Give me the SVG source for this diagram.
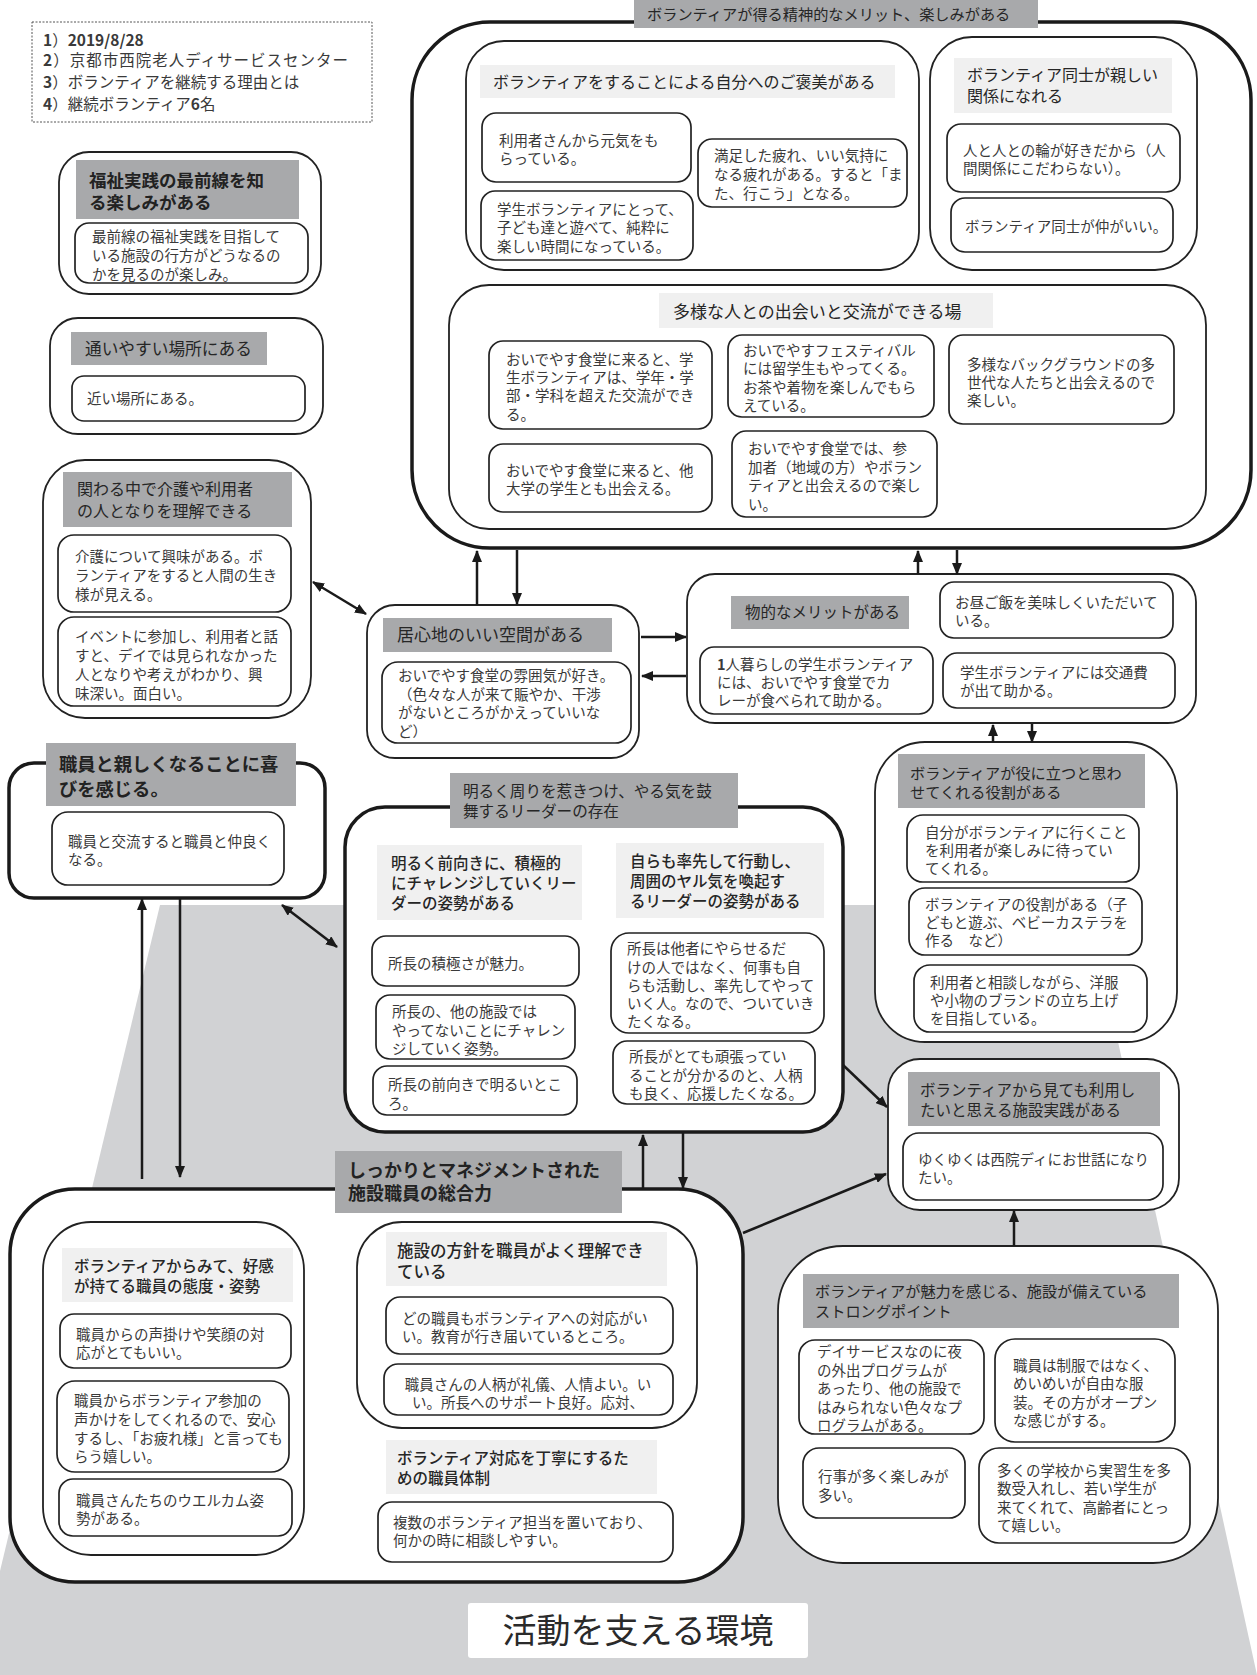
<svg xmlns="http://www.w3.org/2000/svg" width="1257" height="1675" viewBox="0 0 1257 1675">
<defs>
<style>
.bg{fill:#d1d2d4}
.thick{fill:#fff;stroke:#1a1a1a;stroke-width:3.5}
.box{fill:#fff;stroke:#222;stroke-width:1.8}
.in{fill:#fff;stroke:#222;stroke-width:1.7}
.dl{fill:#a8a9ab}
.ll{fill:#f0f0f0}
text{font-family:"Noto Sans CJK JP","Noto Sans CJK SC",sans-serif}
.t{font-size:14.5px;fill:#3a3a3a}
.h{font-size:16px;fill:#262626}
.b{font-weight:bold;fill:#222}
.conn line{stroke:#1a1a1a;stroke-width:2.5;marker-end:url(#ah)}
.conn line.dbl{marker-start:url(#ah)}
</style>
<marker id="ah" viewBox="0 0 12 10" refX="11" refY="5" markerWidth="12" markerHeight="10" markerUnits="userSpaceOnUse" orient="auto-start-reverse">
<path d="M0,0 L12,5 L0,10 z" fill="#1a1a1a"/>
</marker>
</defs>

<polygon class="bg" points="160,905 1088,905 1257,1675 0,1675 0,1571"/>

<g id="info">
<rect x="32" y="22" width="340" height="100" fill="#fff" stroke="#555" stroke-width="1" stroke-dasharray="2,1.5"/>
<text class="t" style="font-size:15.5px" x="43" y="46"><tspan font-weight="bold">1</tspan>）<tspan font-weight="bold">2019/8/28</tspan></text>
<text class="t" style="font-size:15.5px;letter-spacing:1px" x="43" y="66"><tspan font-weight="bold">2</tspan>）京都市西院老人ディサービスセンター</text>
<text class="t" style="font-size:15.5px" x="43" y="88"><tspan font-weight="bold">3</tspan>）ボランティアを継続する理由とは</text>
<text class="t" style="font-size:15.5px" x="43" y="110"><tspan font-weight="bold">4</tspan>）継続ボランティア<tspan font-weight="bold">6</tspan>名</text>
</g>

<g id="spirit">
<rect class="thick" x="412" y="22" width="839" height="526" rx="78"/>
<rect class="dl" x="634" y="0" width="404" height="28"/>
<text class="h" style="font-size:15.2px" x="647" y="20">ボランティアが得る精神的なメリット、楽しみがある</text>
</g>

<g id="reward">
<rect class="box" x="466" y="41" width="453" height="229" rx="38"/>
<rect class="ll" x="480" y="65" width="415" height="33"/>
<text class="h" x="493" y="88">ボランティアをすることによる自分へのご褒美がある</text>
<rect class="in" x="482" y="113" width="209" height="69" rx="14"/>
<text class="t" x="499" y="145.5">利用者さんから元気をも</text>
<text class="t" x="499" y="163.5">らっている。</text>
<rect class="in" x="481" y="191" width="212" height="69" rx="14"/>
<text class="t" x="497" y="215">学生ボランティアにとって、</text>
<text class="t" x="497" y="233">子ども達と遊べて、純粋に</text>
<text class="t" x="497" y="252">楽しい時間になっている。</text>
<rect class="in" x="698" y="139" width="209" height="68" rx="14"/>
<text class="t" x="714" y="161">満足した疲れ、いい気持に</text>
<text class="t" x="714" y="180">なる疲れがある。すると「ま</text>
<text class="t" x="714" y="199">た、行こう」となる。</text>
</g>

<g id="peers">
<rect class="box" x="930" y="37" width="267" height="233" rx="42"/>
<rect class="ll" x="954" y="58" width="218" height="55"/>
<text class="h" x="967" y="81">ボランティア同士が親しい</text>
<text class="h" x="967" y="102">関係になれる</text>
<rect class="in" x="947" y="124" width="233" height="68" rx="14"/>
<text class="t" x="963" y="155.5">人と人との輪が好きだから（人</text>
<text class="t" x="963" y="173.5">間関係にこだわらない）。</text>
<rect class="in" x="951" y="198" width="222" height="54" rx="14"/>
<text class="t" x="965" y="231.5">ボランティア同士が仲がいい。</text>
</g>

<g id="diverse">
<rect class="box" x="449" y="285" width="757" height="244" rx="40"/>
<rect class="ll" x="659" y="293" width="334" height="35"/>
<text class="h" style="font-size:17px" x="673" y="318">多様な人との出会いと交流ができる場</text>
<rect class="in" x="489" y="341" width="223" height="88" rx="14"/>
<text class="t" x="506" y="364.5">おいでやす食堂に来ると、学</text>
<text class="t" x="506" y="383">生ボランティアは、学年・学</text>
<text class="t" x="506" y="401">部・学科を超えた交流ができ</text>
<text class="t" x="506" y="419.5">る。</text>
<rect class="in" x="489" y="444" width="223" height="68" rx="14"/>
<text class="t" x="506" y="476">おいでやす食堂に来ると、他</text>
<text class="t" x="506" y="494">大学の学生とも出会える。</text>
<rect class="in" x="728" y="335" width="206" height="82" rx="14"/>
<text class="t" x="743" y="355.5">おいでやすフェスティバル</text>
<text class="t" x="743" y="374">には留学生もやってくる。</text>
<text class="t" x="743" y="392.5">お茶や着物を楽しんでもら</text>
<text class="t" x="743" y="411">えている。</text>
<rect class="in" x="732" y="431" width="205" height="86" rx="14"/>
<text class="t" x="748" y="454">おいでやす食堂では、参</text>
<text class="t" x="748" y="472.5">加者（地域の方）やボラン</text>
<text class="t" x="748" y="491">ティアと出会えるので楽し</text>
<text class="t" x="748" y="509.5">い。</text>
<rect class="in" x="949" y="335" width="225" height="89" rx="14"/>
<text class="t" x="967" y="369.5">多様なバックグラウンドの多</text>
<text class="t" x="967" y="387.5">世代な人たちと出会えるので</text>
<text class="t" x="967" y="405.5">楽しい。</text>
</g>

<g id="frontline">
<rect class="box" x="59" y="152" width="262" height="142" rx="30"/>
<rect class="dl" x="76" y="160" width="223" height="59"/>
<text class="h b" style="font-size:17.5px" x="89" y="187">福祉実践の最前線を知</text>
<text class="h b" style="font-size:17.5px" x="89" y="209">る楽しみがある</text>
<rect class="in" x="75" y="223" width="233" height="60" rx="14"/>
<text class="t" x="92" y="242">最前線の福祉実践を目指して</text>
<text class="t" x="92" y="261">いる施設の行方がどうなるの</text>
<text class="t" x="92" y="279.5">かを見るのが楽しみ。</text>
</g>

<g id="access">
<rect class="box" x="50" y="318" width="273" height="116" rx="28"/>
<rect class="dl" x="71" y="332" width="196" height="33"/>
<text class="h" style="font-size:16.7px" x="85" y="355">通いやすい場所にある</text>
<rect class="in" x="72" y="376" width="233" height="45" rx="12"/>
<text class="t" x="87" y="403.5">近い場所にある。</text>
</g>

<g id="understand">
<rect class="box" x="43" y="460" width="268" height="258" rx="42"/>
<rect class="dl" x="63" y="472" width="229" height="55"/>
<text class="h" style="font-size:16px" x="77" y="494.5">関わる中で介護や利用者</text>
<text class="h" style="font-size:16px" x="77" y="516.5">の人となりを理解できる</text>
<rect class="in" x="58" y="535" width="233" height="77" rx="16"/>
<text class="t" x="75" y="562">介護について興味がある。ボ</text>
<text class="t" x="75" y="581">ランティアをすると人間の生き</text>
<text class="t" x="75" y="599.5">様が見える。</text>
<rect class="in" x="58" y="617" width="233" height="89" rx="16"/>
<text class="t" x="75" y="642">イベントに参加し、利用者と話</text>
<text class="t" x="75" y="661">すと、デイでは見られなかった</text>
<text class="t" x="75" y="680">人となりや考えがわかり、興</text>
<text class="t" x="75" y="699">味深い。面白い。</text>
</g>

<g id="staffclose">
<rect class="thick" x="9" y="763" width="316" height="135" rx="25"/>
<rect class="dl" x="46" y="743" width="250" height="63"/>
<text class="h b" style="font-size:18.3px" x="59" y="770.5">職員と親しくなることに喜</text>
<text class="h b" style="font-size:18.3px" x="59" y="795.5">びを感じる。</text>
<rect class="in" x="52" y="812" width="232" height="73" rx="16"/>
<text class="t" x="68" y="846.5">職員と交流すると職員と仲良く</text>
<text class="t" x="68" y="864.5">なる。</text>
</g>

<g id="comfort">
<rect class="box" x="367" y="605" width="272" height="153" rx="28"/>
<rect class="dl" x="383" y="618" width="229" height="34"/>
<text class="h" style="font-size:17px" x="397" y="641">居心地のいい空間がある</text>
<rect class="in" x="382" y="662" width="249" height="81" rx="16"/>
<text class="t" x="398" y="681">おいでやす食堂の雰囲気が好き。</text>
<text class="t" x="398" y="699.5">（色々な人が来て賑やか、干渉</text>
<text class="t" x="398" y="718">がないところがかえっていいな</text>
<text class="t" x="398" y="736.5">ど）</text>
</g>

<g id="material">
<rect class="box" x="687" y="574" width="509" height="149" rx="28"/>
<rect class="dl" x="731" y="596" width="178" height="33"/>
<text class="h" style="font-size:15.5px" x="745" y="618">物的なメリットがある</text>
<rect class="in" x="700" y="647" width="233" height="67" rx="14"/>
<text class="t" x="717" y="670"><tspan font-weight="bold">1</tspan>人暮らしの学生ボランティア</text>
<text class="t" x="717" y="688">には、おいでやす食堂でカ</text>
<text class="t" x="717" y="706">レーが食べられて助かる。</text>
<rect class="in" x="940" y="582" width="233" height="56" rx="14"/>
<text class="t" x="955" y="607.5">お昼ご飯を美味しくいただいて</text>
<text class="t" x="955" y="625.5">いる。</text>
<rect class="in" x="943" y="653" width="232" height="55" rx="14"/>
<text class="t" x="960" y="677.5">学生ボランティアには交通費</text>
<text class="t" x="960" y="695.5">が出て助かる。</text>
</g>

<g id="role">
<rect class="box" x="875" y="742" width="302" height="300" rx="50"/>
<rect class="dl" x="898" y="754" width="247" height="54"/>
<text class="h" style="font-size:15.2px" x="910" y="778.5">ボランティアが役に立つと思わ</text>
<text class="h" style="font-size:15.2px" x="910" y="797.5">せてくれる役割がある</text>
<rect class="in" x="907" y="815" width="232" height="67" rx="16"/>
<text class="t" x="925" y="838">自分がボランティアに行くこと</text>
<text class="t" x="925" y="856">を利用者が楽しみに待ってい</text>
<text class="t" x="925" y="874">てくれる。</text>
<rect class="in" x="909" y="888" width="233" height="67" rx="16"/>
<text class="t" x="925" y="910">ボランティアの役割がある（子</text>
<text class="t" x="925" y="928">どもと遊ぶ、ベビーカステラを</text>
<text class="t" x="925" y="946">作る　など）</text>
<rect class="in" x="914" y="965" width="233" height="67" rx="16"/>
<text class="t" x="930" y="988">利用者と相談しながら、洋服</text>
<text class="t" x="930" y="1006">や小物のブランドの立ち上げ</text>
<text class="t" x="930" y="1024">を目指している。</text>
</g>

<g id="wantuse">
<rect class="box" x="888" y="1059" width="291" height="151" rx="32"/>
<rect class="dl" x="908" y="1072" width="252" height="54"/>
<text class="h" style="font-size:15.5px" x="920" y="1096">ボランティアから見ても利用し</text>
<text class="h" style="font-size:15.5px" x="920" y="1116">たいと思える施設実践がある</text>
<rect class="in" x="903" y="1133" width="260" height="67" rx="16"/>
<text class="t" x="918" y="1164.5">ゆくゆくは西院ディにお世話になり</text>
<text class="t" x="918" y="1182.5">たい。</text>
</g>

<g id="leader">
<rect class="thick" x="345" y="807" width="498" height="325" rx="40"/>
<rect class="dl" x="450" y="773" width="288" height="55"/>
<text class="h" style="font-size:15.6px" x="463" y="797">明るく周りを惹きつけ、やる気を鼓</text>
<text class="h" style="font-size:15.6px" x="463" y="817">舞するリーダーの存在</text>
<rect class="ll" x="377" y="845" width="205" height="75"/>
<text class="h" style="font-size:15.5px;font-weight:500" x="391" y="868.5">明るく前向きに、積極的</text>
<text class="h" style="font-size:15.5px;font-weight:500" x="391" y="888.5">にチャレンジしていくリー</text>
<text class="h" style="font-size:15.5px;font-weight:500" x="391" y="908.5">ダーの姿勢がある</text>
<rect class="ll" x="616" y="843" width="208" height="75"/>
<text class="h" style="font-size:15.5px;font-weight:500" x="630" y="866.5">自らも率先して行動し、</text>
<text class="h" style="font-size:15.5px;font-weight:500" x="630" y="886.5">周囲のヤル気を喚起す</text>
<text class="h" style="font-size:15.5px;font-weight:500" x="630" y="906.5">るリーダーの姿勢がある</text>
<rect class="in" x="372" y="936" width="207" height="50" rx="14"/>
<text class="t" x="388" y="969">所長の積極さが魅力。</text>
<rect class="in" x="376" y="995" width="199" height="64" rx="14"/>
<text class="t" x="392" y="1017">所長の、他の施設では</text>
<text class="t" x="392" y="1035.5">やってないことにチャレン</text>
<text class="t" x="392" y="1054">ジしていく姿勢。</text>
<rect class="in" x="373" y="1066" width="204" height="49" rx="14"/>
<text class="t" x="388" y="1090">所長の前向きで明るいとこ</text>
<text class="t" x="388" y="1108.5">ろ。</text>
<rect class="in" x="611" y="933" width="213" height="100" rx="18"/>
<text class="t" x="627" y="954">所長は他者にやらせるだ</text>
<text class="t" x="627" y="972.5">けの人ではなく、何事も自</text>
<text class="t" x="627" y="990.5">らも活動し、率先してやって</text>
<text class="t" x="627" y="1009">いく人。なので、ついていき</text>
<text class="t" x="627" y="1027">たくなる。</text>
<rect class="in" x="613" y="1041" width="202" height="63" rx="14"/>
<text class="t" x="629" y="1062">所長がとても頑張ってい</text>
<text class="t" x="629" y="1080.5">ることが分かるのと、人柄</text>
<text class="t" x="629" y="1099">も良く、応援したくなる。</text>
</g>

<g id="management">
<rect class="thick" x="10" y="1189" width="733" height="393" rx="65"/>
<rect class="dl" x="335" y="1151" width="287" height="62"/>
<text class="h b" style="font-size:18px" x="348" y="1177">しっかりとマネジメントされた</text>
<text class="h b" style="font-size:18px" x="348" y="1200">施設職員の総合力</text>
</g>

<g id="attitude">
<rect class="box" x="43" y="1222" width="261" height="333" rx="48"/>
<rect class="ll" x="62" y="1248" width="231" height="54"/>
<text class="h" style="font-size:15.5px;font-weight:500" x="74" y="1271.5">ボランティアからみて、好感</text>
<text class="h" style="font-size:15.5px;font-weight:500" x="74" y="1291.5">が持てる職員の態度・姿勢</text>
<rect class="in" x="60" y="1314" width="231" height="54" rx="14"/>
<text class="t" x="76" y="1339.5">職員からの声掛けや笑顔の対</text>
<text class="t" x="76" y="1357.5">応がとてもいい。</text>
<rect class="in" x="57" y="1381" width="232" height="91" rx="18"/>
<text class="t" x="74" y="1405.5">職員からボランティア参加の</text>
<text class="t" x="74" y="1424.5">声かけをしてくれるので、安心</text>
<text class="t" x="74" y="1443.5">するし、「お疲れ様」と言っても</text>
<text class="t" x="74" y="1462">らう嬉しい。</text>
<rect class="in" x="59" y="1479" width="233" height="57" rx="14"/>
<text class="t" x="76" y="1505.5">職員さんたちのウエルカム姿</text>
<text class="t" x="76" y="1524">勢がある。</text>
</g>

<g id="policy">
<rect class="box" x="357" y="1222" width="340" height="206" rx="45"/>
<rect class="ll" x="386" y="1232" width="281" height="54"/>
<text class="h" style="font-size:16.5px;font-weight:500" x="397" y="1257">施設の方針を職員がよく理解でき</text>
<text class="h" style="font-size:16.5px;font-weight:500" x="397" y="1278">ている</text>
<rect class="in" x="386" y="1297" width="287" height="57" rx="14"/>
<text class="t" x="402" y="1324">どの職員もボランティアへの対応がい</text>
<text class="t" x="402" y="1342">い。教育が行き届いているところ。</text>
<rect class="in" x="384" y="1364" width="289" height="51" rx="14"/>
<text class="t" x="528" y="1389.5" text-anchor="middle">職員さんの人柄が礼儀、人情よい。い</text>
<text class="t" x="528" y="1407.5" text-anchor="middle">い。所長へのサポート良好。応対、</text>
</g>

<g id="system">
<rect class="ll" x="386" y="1440" width="271" height="54"/>
<text class="h" style="font-size:15.5px;font-weight:500" x="397" y="1464">ボランティア対応を丁寧にするた</text>
<text class="h" style="font-size:15.5px;font-weight:500" x="397" y="1484">めの職員体制</text>
<rect class="in" x="378" y="1502" width="295" height="60" rx="14"/>
<text class="t" x="393" y="1528">複数のボランティア担当を置いており、</text>
<text class="t" x="393" y="1546">何かの時に相談しやすい。</text>
</g>

<g id="strong">
<rect class="box" x="778" y="1246" width="440" height="317" rx="65"/>
<rect class="dl" x="803" y="1274" width="376" height="54"/>
<text class="h" style="font-size:15.2px" x="815" y="1297">ボランティアが魅力を感じる、施設が備えている</text>
<text class="h" style="font-size:15.2px" x="815" y="1316.5">ストロングポイント</text>
<rect class="in" x="799" y="1340" width="185" height="94" rx="16"/>
<text class="t" x="817" y="1357">デイサービスなのに夜</text>
<text class="t" x="817" y="1375.5">の外出プログラムが</text>
<text class="t" x="817" y="1394">あったり、他の施設で</text>
<text class="t" x="817" y="1412.5">はみられない色々なプ</text>
<text class="t" x="817" y="1431">ログラムがある。</text>
<rect class="in" x="995" y="1339" width="180" height="103" rx="20"/>
<text class="t" x="1013" y="1370.5">職員は制服ではなく、</text>
<text class="t" x="1013" y="1389">めいめいが自由な服</text>
<text class="t" x="1013" y="1407.5">装。その方がオープン</text>
<text class="t" x="1013" y="1426">な感じがする。</text>
<rect class="in" x="803" y="1448" width="162" height="70" rx="16"/>
<text class="t" x="818" y="1482">行事が多く楽しみが</text>
<text class="t" x="818" y="1500.5">多い。</text>
<rect class="in" x="979" y="1448" width="211" height="95" rx="20"/>
<text class="t" x="997" y="1475.5">多くの学校から実習生を多</text>
<text class="t" x="997" y="1494">数受入れし、若い学生が</text>
<text class="t" x="997" y="1512.5">来てくれて、高齢者にとっ</text>
<text class="t" x="997" y="1531">て嬉しい。</text>
</g>

<g id="footer">
<rect x="468" y="1603" width="340" height="55" rx="3" fill="#fff"/>
<text x="638" y="1643" text-anchor="middle" style="font-size:34px;fill:#2a2a2a">活動を支える環境</text>
</g>

<g class="conn" id="connectors">
<line x1="477" y1="605" x2="477" y2="551"/>
<line x1="517" y1="550" x2="517" y2="604"/>
<line x1="918" y1="574" x2="918" y2="551"/>
<line x1="957" y1="550" x2="957" y2="574"/>
<line x1="641" y1="637" x2="686" y2="637"/>
<line x1="686" y1="676" x2="642" y2="676"/>
<line x1="993" y1="742" x2="993" y2="725"/>
<line x1="1032" y1="724" x2="1032" y2="742"/>
<line class="dbl" x1="313" y1="582" x2="366" y2="614"/>
<line class="dbl" x1="282" y1="905" x2="337" y2="947"/>
<line x1="142" y1="1179" x2="142" y2="899"/>
<line x1="180" y1="899" x2="180" y2="1177"/>
<line x1="643" y1="1189" x2="643" y2="1135"/>
<line x1="683" y1="1133" x2="683" y2="1188"/>
<line x1="843" y1="1065" x2="887" y2="1107"/>
<line x1="743" y1="1233" x2="886" y2="1174"/>
<line x1="1014" y1="1246" x2="1014" y2="1211"/>
</g>
</svg>
